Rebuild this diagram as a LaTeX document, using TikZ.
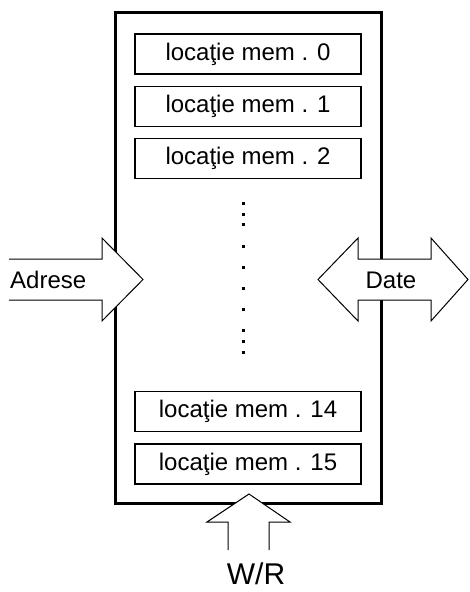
\documentclass[tikz,border=0pt]{standalone}
\usepackage{fontspec}
\setmainfont{Liberation Sans}
\usetikzlibrary{positioning}

\tikzset{
  cell/.style={draw, line width=1.3pt, minimum width=226pt, minimum height=40pt,
               inner sep=0pt, font=\fontsize{24}{28}\selectfont},
  blockarrow/.style={draw, fill=white, line width=1pt, line join=miter},
  lbl/.style={inner sep=0pt, font=\fontsize{24}{28}\selectfont}
}

\begin{document}
\begin{tikzpicture}[x=1pt, y=-1pt]
  \useasboundingbox (0,0) rectangle (469,592);
  % Memory chip outline
  \node[draw, line width=3pt, minimum width=266pt, minimum height=491pt, inner sep=0pt]
    (chip) at (248,257.5) {};
  % Memory locations
  \node[cell] (m0) at (248,54) {locaţie mem . 0};
  \node[cell, below=11pt of m0] (m1) {locaţie mem . 1};
  \node[cell, below=11pt of m1] (m2) {locaţie mem . 2};
  \node[cell] (m15) at (248,464) {locaţie mem . 15};
  \node[cell, above=11pt of m15] (m14) {locaţie mem . 14};
  % Dots between location 2 and location 14
  \foreach \y in {203,214,224,246,267,288,309,330,341,352}
    \fill (241.5,\y-1.5) rectangle +(3,3);
  % Address bus (input)
  \filldraw[blockarrow] (9,259) -- (102,259) -- (102,238) -- (143,279.5)
    -- (102,321) -- (102,300) -- (9,300);
  \node[lbl, anchor=west] (adr) at (10,280) {Adrese};
  % Data bus (both ways)
  \filldraw[blockarrow] (358,259) -- (431,259) -- (431,238) -- (468,279.5)
    -- (431,321) -- (431,300) -- (358,300) -- (358,321) -- (318,279.5)
    -- (358,238) -- cycle;
  \node[lbl] (dat) at (391,280) {Date};
  % Write/read control
  \filldraw[blockarrow] (228,550) -- (228,522) -- (207,522) -- (249,494)
    -- (290,522) -- (269,522) -- (269,550);
  \node[lbl, font=\fontsize{30}{34}\selectfont, anchor=base] (wr) at (256,584) {W/R};
\end{tikzpicture}
\end{document}
